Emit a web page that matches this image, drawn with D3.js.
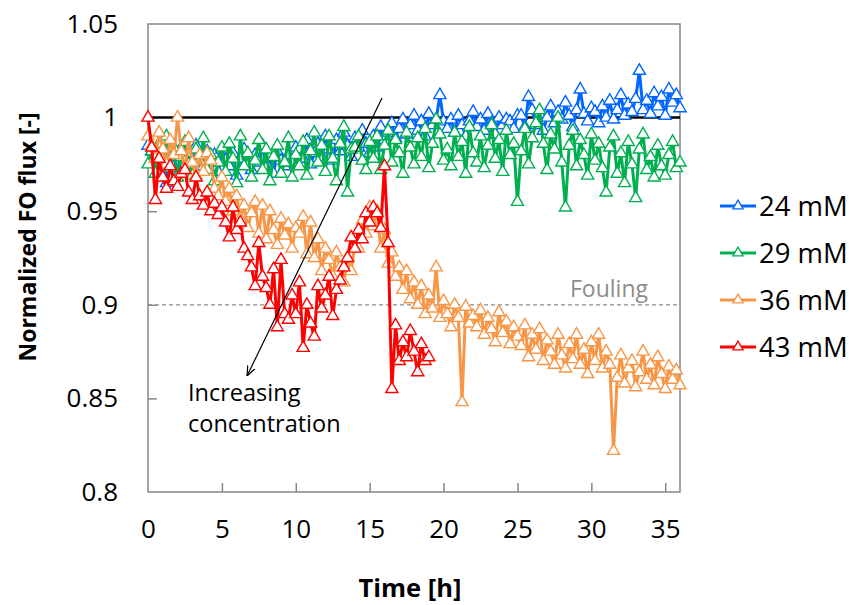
<!DOCTYPE html>
<html>
<head>
    <style>
        body { margin: 0; background: #fff; }
        text { font-family: "Open Sans", sans-serif; fill: #000; }
        .tick line { stroke: #868686; stroke-width: 1.5; }
        .axis-title { font-weight: bold; }
    </style>
    <script src="https://d3js.org/d3.v7.min.js"></script>
</head>
<body>
<svg width="849" height="605"></svg>
<script>
    // flux was logged every 15 min, values start at t = 0 h
    let dt = 0.25;

    let flux24 = [
        0.985,0.982,0.978,0.986,0.980,0.965,0.983,0.979,0.970,0.984,0.977,0.981,0.972,0.985,0.978,0.974,0.982,0.976,0.980,0.971,0.983,
        0.977,0.974,0.981,0.969,0.978,0.983,0.975,0.972,0.980,0.976,0.985,0.973,0.979,0.970,0.982,0.977,0.974,0.980,0.976,0.984,
        0.983,0.978,0.988,0.975,0.981,0.986,0.979,0.990,0.983,0.977,0.988,0.982,0.992,0.985,0.979,0.989,0.984,0.993,0.986,0.981,
        0.990,0.984,0.995,0.988,0.992,0.997,0.989,0.994,0.999,0.991,0.996,1.001,0.993,0.998,0.990,1.002,0.996,0.999,1.012,0.998,
        0.994,0.999,0.992,1.001,0.996,0.990,0.998,1.003,0.995,0.999,0.993,1.002,0.997,0.991,1.000,0.996,0.999,0.998,0.994,1.001,
        1.001,0.995,1.011,1.004,0.996,1.002,0.993,1.000,1.006,0.997,1.003,0.999,1.008,1.001,0.995,1.004,1.015,1.002,0.998,1.005,
        1.003,0.997,1.006,1.000,1.009,0.999,1.004,1.012,1.001,1.007,1.003,1.010,1.025,1.004,1.009,1.002,1.013,1.006,1.011,1.001,1.015,1.008,1.012,1.005
    ];
    let flux29 = [
        0.975,0.982,0.970,0.986,0.978,0.990,0.973,0.984,0.968,0.979,0.987,0.975,0.969,0.983,0.977,0.989,0.972,0.980,0.966,0.976,0.984,
        0.971,0.986,0.978,0.965,0.990,0.974,0.981,0.968,0.977,0.988,0.972,0.983,0.966,0.979,0.985,0.970,0.976,0.989,0.968,0.980,
        0.974,0.987,0.969,0.982,0.992,0.976,0.985,0.971,0.990,0.978,0.966,0.986,0.995,0.960,0.983,0.984,0.990,0.977,0.972,0.987,
        0.978,0.990,0.972,0.985,0.993,0.976,0.988,0.981,0.970,0.992,0.984,0.975,0.989,0.979,0.994,0.973,0.986,0.999,0.991,0.977,
        0.983,0.974,0.992,0.979,0.987,0.970,0.995,0.981,0.976,0.990,0.973,0.985,0.996,0.978,0.988,0.971,0.993,0.980,0.986,0.955,
        0.982,0.994,0.975,0.989,0.997,1.004,0.986,0.972,0.991,0.983,1.000,0.976,0.952,0.985,0.993,0.974,0.988,0.980,0.969,0.991,
        0.977,0.986,0.973,0.960,0.984,0.990,0.970,0.981,0.965,0.987,0.975,0.957,0.983,0.991,0.972,0.979,0.968,0.985,0.974,0.969,0.980,0.987,0.973,0.976
    ];
    let flux36 = [
        0.990,0.985,0.978,0.992,0.983,0.975,0.988,0.980,1.000,0.982,0.972,0.989,0.976,0.969,0.980,0.971,0.981,0.977,0.962,0.958,0.968,
        0.955,0.962,0.950,0.958,0.946,0.953,0.941,0.949,0.955,0.938,0.953,0.935,0.950,0.940,0.932,0.946,0.937,0.943,0.930,0.941,
        0.938,0.947,0.927,0.944,0.925,0.935,0.918,0.930,0.924,0.915,0.928,0.920,0.912,0.925,0.918,0.932,0.930,0.945,0.938,0.952,
        0.942,0.950,0.930,0.940,0.922,0.928,0.915,0.920,0.908,0.918,0.903,0.912,0.900,0.910,0.895,0.905,0.898,0.920,0.893,0.902,
        0.895,0.888,0.900,0.893,0.848,0.899,0.890,0.894,0.888,0.897,0.884,0.893,0.887,0.880,0.896,0.885,0.891,0.879,0.888,0.883,
        0.878,0.889,0.872,0.884,0.876,0.887,0.870,0.881,0.875,0.868,0.884,0.873,0.866,0.879,0.871,0.884,0.868,0.876,0.863,0.880,
        0.870,0.884,0.866,0.875,0.868,0.822,0.861,0.873,0.858,0.866,0.870,0.856,0.864,0.875,0.860,0.868,0.857,0.872,0.863,0.855,0.867,0.860,0.865,0.857
    ];
    let flux43 = [
        1.000,0.984,0.956,0.978,0.968,0.962,0.974,0.966,0.963,0.970,0.972,0.960,0.956,0.968,0.958,0.953,0.960,0.950,0.954,0.948,0.952,
        0.944,0.936,0.952,0.940,0.944,0.930,0.926,0.920,0.910,0.933,0.915,0.909,0.900,0.919,0.888,0.924,0.895,0.892,0.905,0.895,
        0.912,0.877,0.900,0.890,0.883,0.910,0.898,0.905,0.915,0.894,0.908,0.913,0.920,0.925,0.936,0.930,0.940,0.935,0.949,0.944,
        0.952,0.949,0.941,0.974,0.933,0.855,0.889,0.870,0.880,0.872,0.886,0.875,0.864,0.879,0.870,0.872
    ];

    let seriesNames = ["24 mM", "29 mM", "36 mM", "43 mM"];
    let seriesColors = ["#0066FF", "#00B050", "#F79646", "#FF0000"];
    let xTicks = [0, 5, 10, 15, 20, 25, 30, 35];
    let yTicks = [0.8, 0.85, 0.9, 0.95, 1, 1.05];
    let yTickLabels = ["0.8", "0.85", "0.9", "0.95", "1", "1.05"];

    let series = [flux24, flux29, flux36, flux43].map(function(vals, k) {
        return {
            name: seriesNames[k],
            color: seriesColors[k],
            points: vals.map(function(v, i) { return {t: i * dt, v: v}; })
        };
    });

    let svg = d3.select("svg"),
        margin = {top: 24, right: 169, bottom: 113, left: 148},
        width = 849 - margin.left - margin.right,
        height = 605 - margin.top - margin.bottom;

    let x = d3.scaleLinear().domain([0, 36]).range([margin.left, margin.left + width]);
    let y = d3.scaleLinear().domain([0.8, 1.05]).range([margin.top + height, margin.top]);

    // plot frame
    svg.append("rect")
        .attr("x", margin.left).attr("y", margin.top)
        .attr("width", width).attr("height", height)
        .attr("fill", "none").attr("stroke", "#868686").attr("stroke-width", 1.5);

    // axes, ticks point inward
    let xAxis = svg.append("g")
        .attr("transform", "translate(0," + (margin.top + height) + ")")
        .call(d3.axisBottom(x).tickValues(xTicks).tickSize(-9).tickPadding(28).tickFormat(d3.format("d")));
    let yAxis = svg.append("g")
        .attr("transform", "translate(" + margin.left + ",0)")
        .call(d3.axisLeft(y).tickValues(yTicks).tickSize(-9).tickPadding(30)
            .tickFormat(function(d, i) { return yTickLabels[i]; }));
    [xAxis, yAxis].forEach(function(a) {
        a.select(".domain").remove();
        a.selectAll("text").style("font-size", "26px").attr("fill", "#000");
    });
    yAxis.selectAll(".tick").filter(function(d) { return d === 0.8 || d === 1.05; }).select("line").remove();
    xAxis.selectAll(".tick").filter(function(d) { return d === 0; }).select("line").remove();

    // reference lines
    svg.append("line")
        .attr("x1", x(0)).attr("x2", x(36)).attr("y1", y(1)).attr("y2", y(1))
        .attr("stroke", "#000").attr("stroke-width", 2.5);
    svg.append("line")
        .attr("x1", x(0)).attr("x2", x(36)).attr("y1", y(0.9)).attr("y2", y(0.9))
        .attr("stroke", "#8c8c8c").attr("stroke-width", 1.3).attr("stroke-dasharray", "4,3");
    svg.append("text")
        .attr("x", 609).attr("y", y(0.9) - 8)
        .attr("text-anchor", "middle")
        .style("font-size", "23px").style("fill", "#8c8c8c")
        .text("Fouling");

    let line = d3.line().x(function(d) { return x(d.t); }).y(function(d) { return y(d.v); });
    let tri = d3.symbol().type(d3.symbolTriangle).size(64);

    series.forEach(function(s) {
        let g = svg.append("g");
        g.append("path")
            .attr("d", line(s.points))
            .attr("fill", "none")
            .attr("stroke", s.color)
            .attr("stroke-width", 3)
            .attr("stroke-linejoin", "round");
        g.selectAll("path.mk")
            .data(s.points)
            .enter()
            .append("path")
            .attr("class", "mk")
            .attr("d", tri)
            .attr("transform", function(d) { return "translate(" + x(d.t) + "," + y(d.v) + ")"; })
            .attr("fill", "#fff")
            .attr("stroke", s.color)
            .attr("stroke-width", 1.4);
    });

    // annotation arrow
    svg.append("defs").append("marker")
        .attr("id", "head")
        .attr("viewBox", "0 0 10 10")
        .attr("refX", 10).attr("refY", 5)
        .attr("markerWidth", 10).attr("markerHeight", 10)
        .attr("markerUnits", "userSpaceOnUse")
        .attr("orient", "auto")
        .append("path")
        .attr("d", "M0,1 L10,5 L0,9")
        .attr("fill", "none").attr("stroke", "#000").attr("stroke-width", 1.2);
    svg.append("line")
        .attr("x1", 382).attr("y1", 98).attr("x2", 247).attr("y2", 376)
        .attr("stroke", "#000").attr("stroke-width", 1.2)
        .attr("marker-end", "url(#head)");
    svg.append("text")
        .attr("x", 188).attr("y", 401)
        .style("font-size", "23.5px")
        .text("Increasing");
    svg.append("text")
        .attr("x", 188).attr("y", 432)
        .style("font-size", "23.5px")
        .text("concentration");

    // legend
    let legend = svg.append("g")
        .selectAll("g")
        .data(series)
        .enter()
        .append("g")
        .attr("transform", function(d, i) { return "translate(720," + (206 + i * 47) + ")"; });
    legend.append("line")
        .attr("x1", 0).attr("x2", 36)
        .attr("stroke", function(d) { return d.color; })
        .attr("stroke-width", 3);
    legend.append("path")
        .attr("d", d3.symbol().type(d3.symbolTriangle).size(45))
        .attr("transform", "translate(18,0)")
        .attr("fill", "#fff")
        .attr("stroke", function(d) { return d.color; })
        .attr("stroke-width", 1.3);
    legend.append("text")
        .attr("x", 39).attr("y", 10)
        .style("font-size", "27.5px")
        .text(function(d) { return d.name; });

    // axis titles
    svg.append("text")
        .attr("class", "axis-title")
        .style("font-size", "25.5px")
        .attr("x", 410).attr("y", 597)
        .attr("text-anchor", "middle")
        .text("Time [h]");
    svg.append("text")
        .attr("class", "axis-title")
        .style("font-size", "23px")
        .attr("transform", "translate(36,237) rotate(-90)")
        .attr("text-anchor", "middle")
        .text("Normalized FO flux [-]");
</script>
</body>
</html>
